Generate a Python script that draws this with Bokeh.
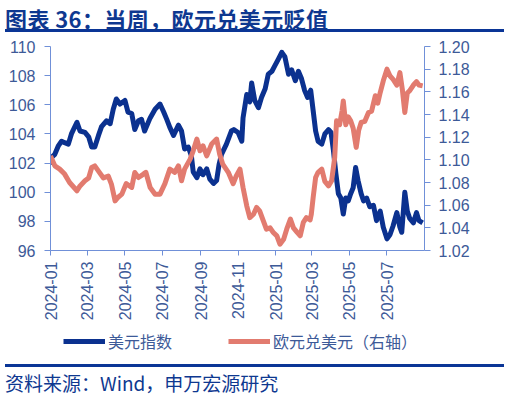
import pandas as pd
from math import pi
from bokeh.plotting import figure
from bokeh.models import (Range1d, LinearAxis, FixedTicker, PrintfTickFormatter,
                          DatetimeTickFormatter, Legend, LegendItem, Div, ColumnDataSource)
from bokeh.layouts import column
from bokeh.embed import file_html
from bokeh.resources import INLINE

# ---------------- data ----------------
dxy_dates = ["2024-01-01", "2024-01-03", "2024-01-08", "2024-01-14", "2024-01-19", "2024-01-24", "2024-01-30",
             "2024-02-04", "2024-02-13", "2024-02-18", "2024-02-26", "2024-03-03", "2024-03-08", "2024-03-13",
             "2024-03-19", "2024-03-24", "2024-04-01", "2024-04-07", "2024-04-12", "2024-04-17", "2024-04-23",
             "2024-05-01", "2024-05-06", "2024-05-12", "2024-05-17", "2024-05-23", "2024-05-28", "2024-06-02",
             "2024-06-11", "2024-06-19", "2024-06-27", "2024-07-03", "2024-07-08", "2024-07-13", "2024-07-19",
             "2024-07-27", "2024-08-01", "2024-08-06", "2024-08-12", "2024-08-17", "2024-08-20", "2024-08-26",
             "2024-08-31", "2024-09-05", "2024-09-11", "2024-09-16", "2024-09-22", "2024-09-27", "2024-10-01",
             "2024-10-05", "2024-10-13", "2024-10-21", "2024-10-25", "2024-11-01", "2024-11-07", "2024-11-09",
             "2024-11-15", "2024-11-20", "2024-11-23", "2024-11-28", "2024-12-04", "2024-12-09", "2024-12-15",
             "2024-12-20", "2024-12-26", "2024-12-31", "2025-01-05", "2025-01-11", "2025-01-16", "2025-01-22",
             "2025-01-27", "2025-02-02", "2025-02-07", "2025-02-12", "2025-02-17", "2025-02-22", "2025-02-27",
             "2025-03-03", "2025-03-07", "2025-03-11", "2025-03-17", "2025-03-22", "2025-03-28", "2025-04-01",
             "2025-04-05", "2025-04-09", "2025-04-13", "2025-04-17", "2025-04-21", "2025-04-25", "2025-04-29",
             "2025-05-03", "2025-05-07", "2025-05-11", "2025-05-15", "2025-05-20", "2025-05-24", "2025-05-29",
             "2025-06-03", "2025-06-09", "2025-06-14", "2025-06-20", "2025-06-25", "2025-07-01", "2025-07-06",
             "2025-07-11", "2025-07-17", "2025-07-22", "2025-07-25", "2025-07-30", "2025-08-03", "2025-08-07",
             "2025-08-13", "2025-08-18", "2025-08-22", "2025-08-28"]
dxy_values = [101.9, 102.4, 102.6, 103.2, 103.5, 103.4, 103.3,
              104.0, 104.8, 104.2, 104.1, 103.8, 103.1, 103.1,
              103.9, 104.5, 104.9, 104.7, 105.7, 106.4, 106.05,
              106.3, 105.5, 105.4, 104.3, 104.9, 105.0, 104.2,
              105.1, 105.7, 106.05, 105.5, 105.0, 104.45, 103.9,
              104.6, 104.2, 102.97, 103.1, 102.5, 101.4, 101.0,
              101.6, 101.2, 101.6, 100.9, 100.6, 100.8, 101.9,
              102.6, 103.3, 104.2, 104.3, 104.1, 103.5, 105.1,
              106.7, 106.2, 107.5, 106.3, 105.8, 106.5, 107.1,
              108.1, 108.3, 108.7, 109.1, 109.6, 109.3, 108.1,
              108.4, 107.65, 108.3, 107.8, 107.0, 106.5, 107.0,
              105.6, 104.2, 103.5, 103.3, 104.0, 104.3, 104.1,
              102.85, 101.25, 99.9, 99.6, 98.5, 99.6, 99.4,
              99.9, 100.3, 101.7, 100.8, 99.9, 99.4, 99.6,
              99.0, 99.1, 98.05, 98.7, 97.6, 96.8, 97.1,
              97.7, 98.6, 97.6, 97.25, 100.0, 98.7, 98.2,
              97.9, 98.6, 98.05, 97.9]

eur_dates = ["2024-01-01", "2024-01-08", "2024-01-16", "2024-01-24", "2024-02-01", "2024-02-13", "2024-02-18",
             "2024-02-26", "2024-03-03", "2024-03-08", "2024-03-13", "2024-03-19", "2024-03-27", "2024-04-04",
             "2024-04-09", "2024-04-15", "2024-04-20", "2024-04-26", "2024-05-03", "2024-05-12", "2024-05-17",
             "2024-05-23", "2024-05-30", "2024-06-04", "2024-06-11", "2024-06-19", "2024-06-27", "2024-07-05",
             "2024-07-13", "2024-07-21", "2024-07-27", "2024-08-01", "2024-08-06", "2024-08-15", "2024-08-20",
             "2024-08-26", "2024-08-31", "2024-09-05", "2024-09-11", "2024-09-19", "2024-09-27", "2024-10-02",
             "2024-10-07", "2024-10-16", "2024-10-24", "2024-10-29", "2024-11-04", "2024-11-09", "2024-11-15",
             "2024-11-20", "2024-11-26", "2024-12-01", "2024-12-06", "2024-12-12", "2024-12-17", "2024-12-23",
             "2024-12-28", "2025-01-03", "2025-01-08", "2025-01-14", "2025-01-19", "2025-01-25", "2025-01-30",
             "2025-02-05", "2025-02-10", "2025-02-15", "2025-02-20", "2025-02-26", "2025-02-28", "2025-03-03",
             "2025-03-07", "2025-03-11", "2025-03-17", "2025-03-22", "2025-03-28", "2025-04-02", "2025-04-07",
             "2025-04-10", "2025-04-15", "2025-04-19", "2025-04-21", "2025-04-25", "2025-04-29", "2025-05-03",
             "2025-05-07", "2025-05-12", "2025-05-16", "2025-05-20", "2025-05-26", "2025-06-01", "2025-06-06",
             "2025-06-12", "2025-06-16", "2025-06-20", "2025-06-25", "2025-07-01", "2025-07-06", "2025-07-11",
             "2025-07-17", "2025-07-22", "2025-07-26", "2025-07-30", "2025-08-03", "2025-08-07", "2025-08-13",
             "2025-08-18", "2025-08-22", "2025-08-28"]
eur_values = [1.1035, 1.0947, 1.0918, 1.0874, 1.080, 1.0727, 1.077,
              1.0815, 1.084, 1.0932, 1.0947, 1.090, 1.084, 1.0856,
              1.0786, 1.0638, 1.067, 1.0697, 1.079, 1.0756, 1.0888,
              1.0844, 1.087, 1.089, 1.0756, 1.0697, 1.0697, 1.079,
              1.0918, 1.089, 1.0947, 1.0815, 1.0918, 1.1006, 1.108,
              1.1183, 1.108, 1.1124, 1.1035, 1.114, 1.1183, 1.105,
              1.0962, 1.089, 1.079, 1.0858, 1.0918, 1.0756, 1.0594,
              1.049, 1.052, 1.058, 1.055, 1.0462, 1.0388, 1.040,
              1.0359, 1.033, 1.0256, 1.030, 1.0388, 1.0477, 1.040,
              1.036, 1.033, 1.0448, 1.049, 1.047, 1.052, 1.0667,
              1.0844, 1.089, 1.0918, 1.081, 1.077, 1.0815, 1.102,
              1.1344, 1.131, 1.1432, 1.152, 1.131, 1.138, 1.1344,
              1.128, 1.111, 1.126, 1.133, 1.134, 1.1418, 1.143,
              1.1565, 1.150, 1.1594, 1.1697, 1.180, 1.174, 1.171,
              1.166, 1.177, 1.162, 1.1418, 1.159, 1.161, 1.166,
              1.169, 1.166, 1.1653]

left_ticks = [96, 98, 100, 102, 104, 106, 108, 110]
right_ticks = [1.02, 1.04, 1.06, 1.08, 1.10, 1.12, 1.14, 1.16, 1.18, 1.20]
x_tick_labels = ["2024-01", "2024-03", "2024-05", "2024-07", "2024-09", "2024-11",
                 "2025-01", "2025-03", "2025-05", "2025-07"]

title_text = "图表 36：当周，欧元兑美元贬值"
source_text = "资料来源：Wind，申万宏源研究"
legend_labels = ["美元指数", "欧元兑美元（右轴）"]

# ---------------- styles ----------------
BLUE = "#0b318f"
SALMON = "#e27b6f"
AXIS = "#7090d8"
TICKTXT = "#3d5a98"
CJK = "Noto Sans CJK SC"
NUM = "Liberation Sans"
LW = 5

dxy_src = ColumnDataSource(dict(x=pd.to_datetime(dxy_dates), y=dxy_values))
eur_src = ColumnDataSource(dict(x=pd.to_datetime(eur_dates), y=eur_values))

p = figure(width=497, height=291, x_axis_type="datetime", output_backend="svg",
           toolbar_location=None,
           x_range=Range1d(pd.Timestamp("2024-01-01"), pd.Timestamp("2025-08-31")),
           y_range=Range1d(96, 110),
           min_border_left=50, min_border_right=73, min_border_top=9, min_border_bottom=78)
p.extra_y_ranges = {"eur": Range1d(1.02, 1.20)}
p.outline_line_color = None
p.xgrid.grid_line_color = None
p.ygrid.grid_line_color = None
p.background_fill_color = "white"
p.border_fill_color = "white"

r1 = p.line("x", "y", source=dxy_src, line_color=BLUE, line_width=LW, line_join="round")
r2 = p.line("x", "y", source=eur_src, line_color=SALMON, line_width=LW, line_join="round",
            y_range_name="eur")

def style_axis(ax):
    ax.axis_line_color = AXIS
    ax.major_tick_line_color = AXIS
    ax.minor_tick_line_color = None
    ax.major_tick_in = 0
    ax.major_tick_out = 6
    ax.major_label_text_color = TICKTXT
    ax.major_label_text_font = NUM
    ax.major_label_text_font_size = "16px"

yl = p.yaxis[0]
yl.ticker = FixedTicker(ticks=left_ticks)
yl.formatter = PrintfTickFormatter(format="%d")
style_axis(yl)
yl.major_label_standoff = 9

yr = LinearAxis(y_range_name="eur", ticker=FixedTicker(ticks=right_ticks),
                formatter=PrintfTickFormatter(format="%.2f"))
style_axis(yr)
yr.major_label_standoff = 8
p.add_layout(yr, "right")

xa = p.xaxis[0]
xa.ticker = FixedTicker(ticks=[pd.Timestamp(s + "-01").value / 1e6 for s in x_tick_labels])
fmt = "%Y-%m"
xa.formatter = DatetimeTickFormatter(years=fmt, months=fmt, days=fmt, hours=fmt, minutes=fmt,
                                     seconds=fmt, milliseconds=fmt, microseconds=fmt)
style_axis(xa)
xa.major_tick_out = 5
xa.major_label_orientation = pi / 2
xa.major_label_standoff = 6

# legend in its own strip below the chart (its frame is aligned with the chart frame)
lg = figure(width=497, height=31, output_backend="svg", toolbar_location=None,
            x_axis_location=None, y_axis_location=None, min_border=0,
            x_range=Range1d(0, 1), y_range=Range1d(0, 1))
lg.outline_line_color = None
lg.xgrid.grid_line_color = None
lg.ygrid.grid_line_color = None
lg.background_fill_color = "white"
lg.border_fill_color = "white"
# legend-key renderers: their points lie outside the strip's range, only the keys show
l1 = lg.line([5, 6], [5, 6], line_color=BLUE, line_width=LW)
l2 = lg.line([5, 6], [5, 6], line_color=SALMON, line_width=LW)
legend = Legend(items=[LegendItem(label=legend_labels[0], renderers=[l1]),
                       LegendItem(label=legend_labels[1], renderers=[l2])],
                orientation="horizontal", location=(13, 6),
                glyph_width=42, glyph_height=20, label_standoff=3, spacing=56,
                label_text_font=CJK, label_text_font_size="16px", label_text_color=TICKTXT,
                border_line_color=None, background_fill_alpha=0, padding=0, margin=0)
lg.add_layout(legend)

title_div = Div(text=title_text, width=499, height=27,
                styles={"font-family": CJK, "font-size": "22px", "font-weight": "bold",
                        "letter-spacing": "0.4px",
                        "color": "#0e3890", "line-height": "27px",
                        "border-bottom": "3px solid #0a3596"})
source_div = Div(text=source_text, width=499, height=34,
                 styles={"font-family": CJK, "font-size": "19px", "color": "#0e3890",
                         "line-height": "32px", "border-top": "3px solid #0a3596"})

layout = column(title_div, p, lg, source_div, spacing=0)

open("out.html", "w").write(file_html(layout, INLINE))
